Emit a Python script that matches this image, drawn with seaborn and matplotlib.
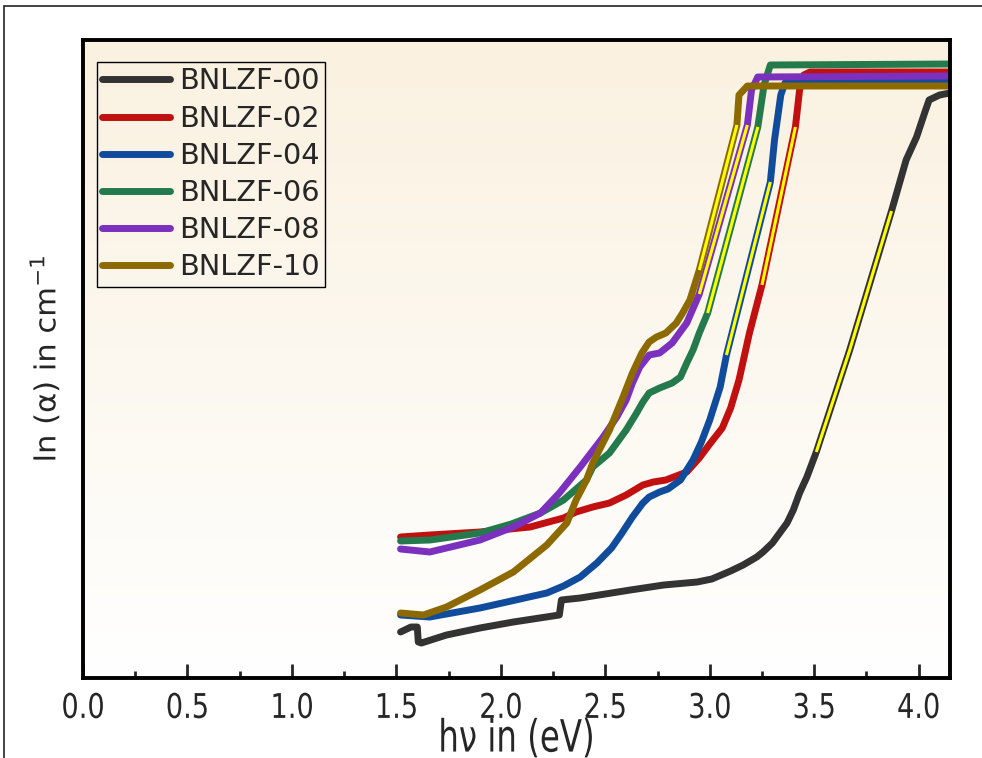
import numpy as np
import pandas as pd
import matplotlib
matplotlib.use("Agg")
import matplotlib.pyplot as plt
import seaborn as sns
from matplotlib.lines import Line2D
from matplotlib.patches import Rectangle
from matplotlib.patheffects import AbstractPathEffect
from matplotlib.transforms import Affine2D
from matplotlib.ticker import MultipleLocator

# ---- data: photon energy (eV) vs ln(alpha) ----
samples = ["BNLZF-00", "BNLZF-02", "BNLZF-04", "BNLZF-06", "BNLZF-08", "BNLZF-10"]
colors = ["#333333", "#C0100F", "#114C9C", "#247A4C", "#7B30BE", "#8C6A00"]

E00 = [1.52, 1.57, 1.60, 1.605, 1.62, 1.74, 1.90, 2.06, 2.28, 2.29, 2.38, 2.62, 2.78,
       2.94, 3.01, 3.10, 3.16, 3.225, 3.255, 3.30, 3.335, 3.37, 3.40, 3.43, 3.465,
       3.51, 3.67, 3.87, 3.94, 3.99, 4.03, 4.05, 4.10, 4.15]
A00 = [0.46, 0.51, 0.51, 0.36, 0.35, 0.43, 0.50, 0.56, 0.63, 0.78, 0.80, 0.88, 0.93,
       0.96, 0.99, 1.07, 1.13, 1.21, 1.26, 1.35, 1.45, 1.55, 1.68, 1.85, 2.01,
       2.26, 3.28, 4.67, 5.18, 5.41, 5.66, 5.78, 5.83, 5.85]

E02 = [1.52, 1.66, 1.90, 2.14, 2.30, 2.36, 2.44, 2.52, 2.60, 2.68, 2.73, 2.79, 2.89,
       2.95, 3.00, 3.06, 3.10, 3.14, 3.19, 3.25, 3.41, 3.43, 3.45, 3.48, 4.15]
A02 = [1.41, 1.43, 1.46, 1.51, 1.60, 1.66, 1.71, 1.75, 1.83, 1.93, 1.96, 1.98, 2.06,
       2.20, 2.34, 2.50, 2.70, 2.98, 3.45, 3.93, 5.51, 5.88, 6.03, 6.06, 6.06]

E04 = [1.52, 1.66, 1.90, 2.05, 2.22, 2.30, 2.38, 2.46, 2.53, 2.58, 2.63, 2.68, 2.71,
       2.76, 2.80, 2.86, 2.92, 2.96, 3.00, 3.05, 3.08, 3.29, 3.31, 3.34, 3.36, 4.15]
A04 = [0.63, 0.61, 0.70, 0.77, 0.85, 0.92, 1.01, 1.15, 1.30, 1.45, 1.61, 1.75, 1.81,
       1.86, 1.89, 1.98, 2.18, 2.36, 2.58, 2.91, 3.23, 4.96, 5.38, 5.83, 5.95, 5.96]

E06 = [1.52, 1.66, 1.90, 2.05, 2.19, 2.30, 2.41, 2.44, 2.52, 2.60, 2.65, 2.68, 2.71,
       2.76, 2.82, 2.86, 2.89, 2.92, 2.95, 2.99, 3.23, 3.26, 3.29, 4.15]
A06 = [1.37, 1.38, 1.45, 1.54, 1.65, 1.78, 1.98, 2.11, 2.25, 2.48, 2.65, 2.76, 2.85,
       2.90, 2.95, 3.01, 3.15, 3.28, 3.45, 3.65, 5.51, 5.93, 6.13, 6.14]

E08 = [1.52, 1.66, 1.90, 2.06, 2.19, 2.28, 2.38, 2.49, 2.555, 2.60, 2.63, 2.665, 2.71,
       2.76, 2.82, 2.89, 2.95, 3.18, 3.20, 3.23, 4.15]
A08 = [1.29, 1.26, 1.38, 1.51, 1.65, 1.85, 2.11, 2.41, 2.61, 2.78, 2.95, 3.11, 3.23,
       3.25, 3.35, 3.55, 3.84, 5.53, 5.88, 6.01, 6.02]

E10 = [1.52, 1.63, 1.74, 1.90, 2.06, 2.22, 2.316, 2.36, 2.41, 2.44, 2.52, 2.585, 2.63,
       2.675, 2.71, 2.745, 2.79, 2.84, 2.87, 2.905, 2.95, 3.13, 3.14, 3.18, 4.15]
A10 = [0.65, 0.63, 0.71, 0.88, 1.06, 1.33, 1.55, 1.78, 1.98, 2.15, 2.48, 2.81, 3.05,
       3.25, 3.36, 3.41, 3.45, 3.55, 3.65, 3.78, 4.08, 5.53, 5.83, 5.92, 5.92]

# linear (Tauc-type) fit ranges on each edge, in eV
fit_lo = [3.51, 3.25, 3.08, 2.99, 2.95, 2.95]
fit_hi = [3.87, 3.41, 3.29, 3.23, 3.18, 3.13]

x_ticks = [0.0, 0.5, 1.0, 1.5, 2.0, 2.5, 3.0, 3.5, 4.0]
x_tick_labels = ["0.0", "0.5", "1.0", "1.5", "2.0", "2.5", "3.0", "3.5", "4.0"]

energies = [E00, E02, E04, E06, E08, E10]
lnalpha = [A00, A02, A04, A06, A08, A10]

frames = []
for name, e, a in zip(samples, energies, lnalpha):
    frames.append(pd.DataFrame({"E": e, "lnA": a, "sample": name}))
df = pd.concat(frames, ignore_index=True)


class Narrow(AbstractPathEffect):
    """Draw text glyphs compressed horizontally (and optionally vertically)."""

    def __init__(self, sx=1.0, sy=1.0):
        super().__init__()
        self.sx, self.sy = sx, sy

    def draw_path(self, renderer, gc, tpath, affine, rgbFace=None):
        ext = tpath.get_extents()
        cx = 0.5 * (ext.x0 + ext.x1)
        squash = Affine2D().translate(-cx, 0).scale(self.sx, self.sy).translate(cx, 0)
        renderer.draw_path(gc, tpath, squash + affine, rgbFace)


sns.set_style("white")
plt.rcParams["font.family"] = ["DejaVu Sans"]
plt.rcParams["mathtext.fontset"] = "dejavusans"

W, H = 982, 758
fig = plt.figure(figsize=(W / 100, H / 100), dpi=100)
ax = fig.add_axes([83 / W, 1 - 678 / H, 867 / W, 638 / H])

# cream-to-white vertical gradient behind the plot
top = np.array([250, 241, 224]) / 255.0
bot = np.array([255, 255, 255]) / 255.0
t = np.linspace(0, 1, 256)[:, None]
grad = (top[None, :] * (1 - t) + bot[None, :] * t)[:, None, :]
ax.imshow(grad, extent=[0, 1, 0, 1], transform=ax.transAxes, aspect="auto",
          zorder=0, interpolation="bilinear")

sns.lineplot(data=df, x="E", y="lnA", hue="sample", hue_order=samples,
             palette=colors, linewidth=5, estimator=None, sort=False,
             legend=False, ax=ax, solid_capstyle="round", solid_joinstyle="round",
             zorder=2)

# yellow linear-fit segments along each absorption edge
for e, a, lo, hi in zip(energies, lnalpha, fit_lo, fit_hi):
    e = np.asarray(e)
    a = np.asarray(a)
    m = (e >= lo - 1e-9) & (e <= hi + 1e-9)
    sns.lineplot(x=e[m], y=a[m], color="#FFFF00", linewidth=2.2, estimator=None,
                 sort=False, ax=ax, zorder=3, solid_capstyle="butt")

ax.set_xlim(0, 4.15)
ax.set_ylim(0, 6.38)
ax.set_xticks(x_ticks)
ax.set_xticklabels(x_tick_labels)
ax.xaxis.set_minor_locator(MultipleLocator(0.25))
ax.set_yticks([])
ax.tick_params(axis="x", which="major", direction="in", length=10, width=2,
               pad=10, labelsize=24.5, bottom=True, top=False)
ax.tick_params(axis="x", which="minor", direction="in", length=5, width=2,
               bottom=True, top=False)
for s in ax.spines.values():
    s.set_linewidth(2.8)
    s.set_color("black")
    s.set_visible(True)

ax.set_xlabel("hν in (eV)", fontsize=32)
ax.xaxis.set_label_coords(0.5, -0.062)
ax.set_ylabel("ln (α) in cm$^{-1}$", fontsize=22)
ax.yaxis.set_label_coords(-0.024, 0.5)

handles = [Line2D([], [], color=c, linewidth=5, solid_capstyle="round") for c in colors]
leg = ax.legend(handles, samples, loc="upper left", bbox_to_anchor=(0.0158, 0.966),
                borderaxespad=0, fontsize=20.7, frameon=True, fancybox=False,
                edgecolor="black", facecolor="none", framealpha=1,
                handlelength=2.35, handletextpad=0.3, labelspacing=0.32,
                borderpad=0.2)
leg.get_frame().set_linewidth(1.0)

for lab in ax.get_xticklabels():
    lab.set_path_effects([Narrow(0.8)])
ax.xaxis.label.set_path_effects([Narrow(0.73)])
ax.yaxis.label.set_path_effects([Narrow(1.0, 0.95)])

# outer figure frame
fig.add_artist(Rectangle((4 / W, -0.5), 2.0, 1.5 - 6 / H, transform=fig.transFigure,
                         fill=False, edgecolor="#222222", linewidth=1.2))

fig.savefig("out.png", dpi=100)
